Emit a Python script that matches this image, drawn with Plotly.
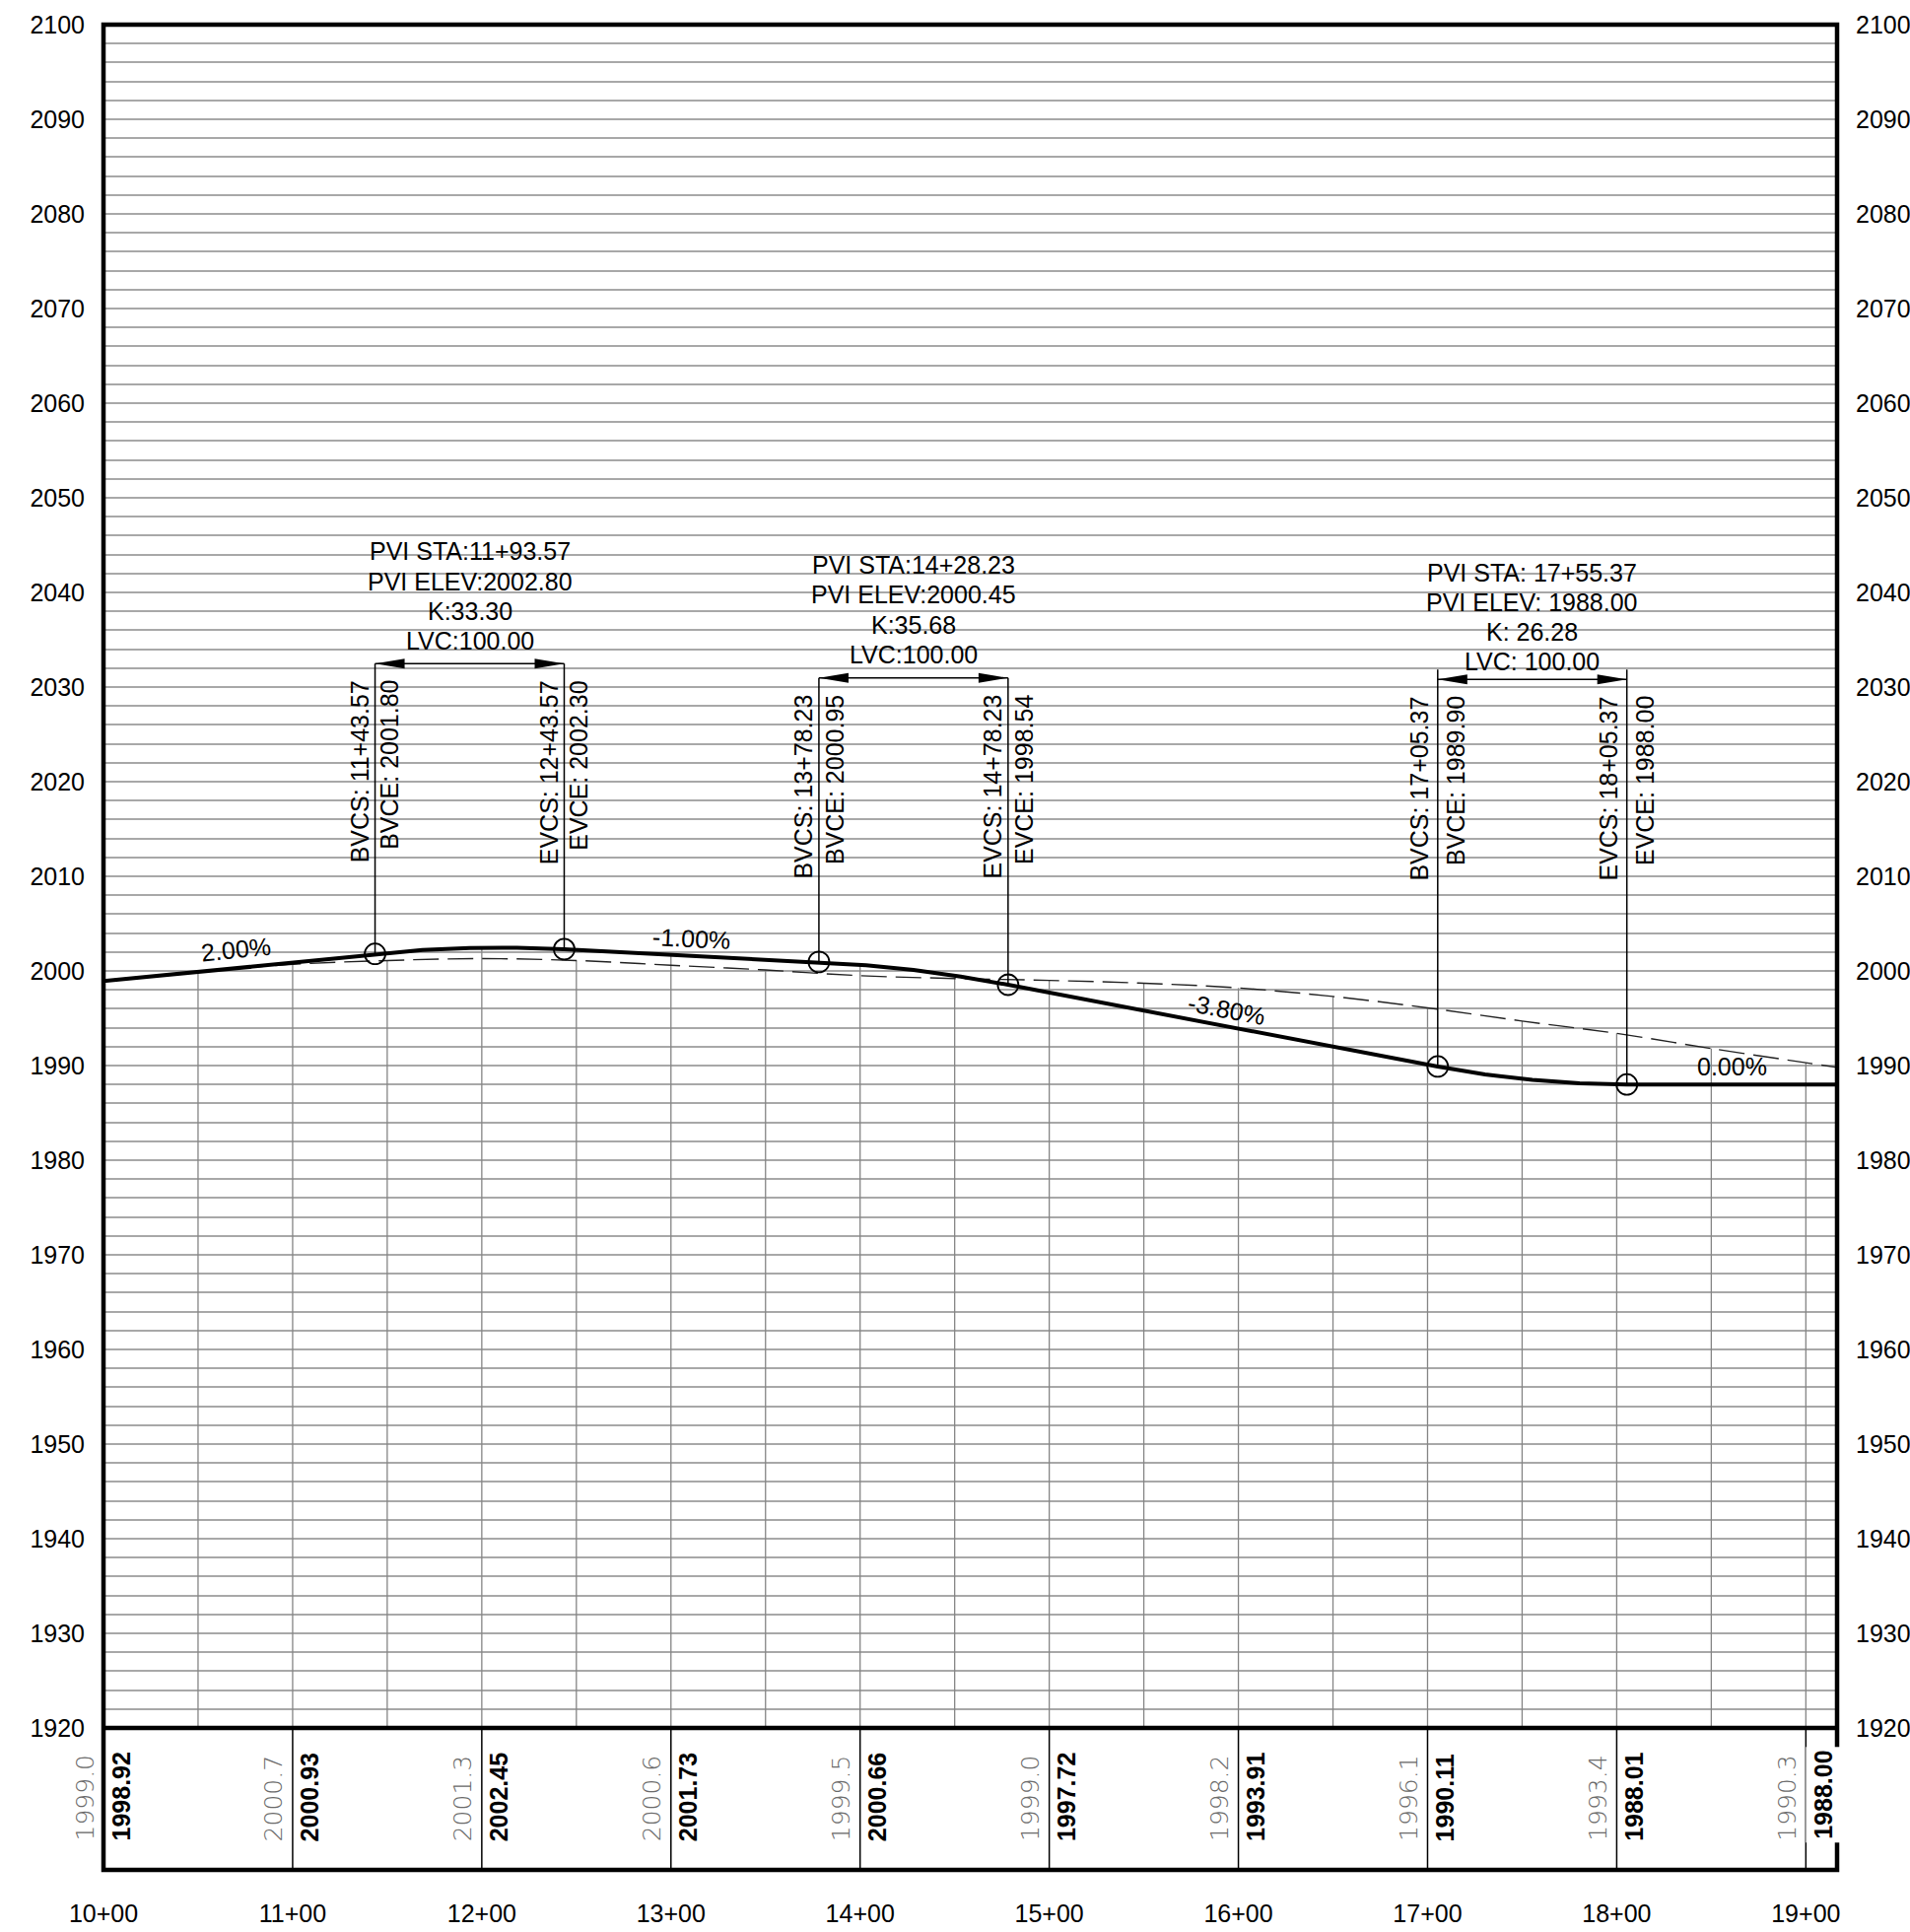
import math
import plotly.graph_objects as go

# ------------------------------------------------------------------ data
station_ticks = [1000, 1100, 1200, 1300, 1400, 1500, 1600, 1700, 1800, 1900]
station_labels = ["10+00", "11+00", "12+00", "13+00", "14+00",
                  "15+00", "16+00", "17+00", "18+00", "19+00"]
design_band = [1998.92, 2000.93, 2002.45, 2001.73, 2000.66,
               1997.72, 1993.91, 1990.11, 1988.01, 1988.00]
ground_band = [1999.0, 2000.7, 2001.3, 2000.6, 1999.5,
               1999.0, 1998.2, 1996.1, 1993.4, 1990.3]

ground_sta = [1000, 1050, 1100, 1150, 1200, 1250, 1300, 1350, 1400, 1450,
              1500, 1550, 1600, 1650, 1700, 1750, 1800, 1850, 1900, 1916.5]
ground_elev = [1999.0, 1999.9, 2000.7, 2001.1, 2001.3, 2001.1, 2000.6, 2000.1, 1999.5, 1999.2,
               1999.0, 1998.7, 1998.2, 1997.3, 1996.1, 1994.7, 1993.4, 1991.8, 1990.3, 1989.8]

design_sta = [1000, 1100, 1143.57, 1168.57, 1193.57, 1218.57, 1243.57, 1300,
              1378.23, 1403.23, 1428.23, 1453.23, 1478.23, 1500, 1600, 1700,
              1705.37, 1730.37, 1755.37, 1780.37, 1805.37, 1900, 1916.5]
design_elev = [1998.92, 2000.93, 2001.80, 2002.21, 2002.43, 2002.46, 2002.30, 2001.73,
               2000.95, 2000.61, 2000.10, 1999.41, 1998.54, 1997.72, 1993.91, 1990.11,
               1989.90, 1989.07, 1988.48, 1988.12, 1988.00, 1988.00, 1988.00]

pvi_sta = [1193.57, 1428.23, 1755.37]
pvi_sta_text = ["11+93.57", "14+28.23", "17+55.37"]
pvi_elev_text = ["2002.80", "2000.45", "1988.00"]
pvi_k_text = ["33.30", "35.68", "26.28"]
pvi_lvc_text = ["100.00", "100.00", "100.00"]
bvc_sta = [1143.57, 1378.23, 1705.37]
bvc_elev = [2001.80, 2000.95, 1989.90]
evc_sta = [1243.57, 1478.23, 1805.37]
evc_elev = [2002.30, 1998.54, 1988.00]

grade_labels = ["2.00%", "-1.00%", "-3.80%", "0.00%"]
grade_values = [2.00, -1.00, -3.80, 0.00]

elev_ticks = list(range(1920, 2101, 10))

# ------------------------------------------------------------------ layout constants
X_MIN, X_MAX = 1000, 1916.5
Y_BAND, Y_GRID, Y_MAX = 1905, 1920, 2100
W, H = 1938, 1960
M_L, M_R, M_T, M_B = 105, 74, 25, 63
PX_X = (W - M_L - M_R) / (X_MAX - X_MIN)
PX_Y = (H - M_T - M_B) / (Y_MAX - Y_BAND)

label_sep = ["", "", " "]
label_first = [2044.34, 2042.89, 2042.11]
label_step_px = 30.2
dim_elev = [2032.47, 2030.97, 2030.80]
dim_ext_px = [0, 0, 10]
side_off = [(-16, 15), (-15.5, 15.5), (-19, 19)]
grade_pos = [(1070.3, 2002.29), (1311.0, 2003.39), (1593.7, 1995.94), (1860.8, 1989.93)]
band_text_elev = 1908.13

FONT = "Liberation Sans, Arial, sans-serif"
GRID = "#a8a8a8"
FS = 25

def fmt_sta(s):
    return f"{int(s // 100)}+{s % 100:05.2f}"

fig = go.Figure()

# vertical grid lines (50 ft) from 1920 up to the profile
vx, vy = [], []
for s, g in zip(ground_sta[1:-1], ground_elev[1:-1]):
    top = g
    if s in station_ticks:
        top = max(g, design_band[station_ticks.index(s)])
    vx += [s, s, None]
    vy += [Y_GRID, top, None]
fig.add_trace(go.Scatter(x=vx, y=vy, mode="lines", line=dict(color="#858585", width=1.3),
                         hoverinfo="skip", showlegend=False))

# band separators
bx, by = [], []
for s in station_ticks[1:]:
    bx += [s, s, None]
    by += [Y_BAND, Y_GRID, None]
fig.add_trace(go.Scatter(x=bx, y=by, mode="lines", line=dict(color="black", width=1.5),
                         hoverinfo="skip", showlegend=False))

# existing ground
fig.add_trace(go.Scatter(x=ground_sta, y=ground_elev, mode="lines", line_shape="spline",
                         line=dict(color="#222222", width=1.4, dash="26px,9px"),
                         hoverinfo="skip", showlegend=False))
# design profile
fig.add_trace(go.Scatter(x=design_sta, y=design_elev, mode="lines",
                         line=dict(color="black", width=4),
                         hoverinfo="skip", showlegend=False))

# dimension lines
dx, dy = [], []
shapes = []
ann = []
L_ARW = 30 / PX_X
H_ARW = 5 / PX_Y
for i in range(3):
    top = dim_elev[i] + dim_ext_px[i] / PX_Y
    dx += [bvc_sta[i], bvc_sta[i], None, evc_sta[i], evc_sta[i], None,
           bvc_sta[i], evc_sta[i], None]
    dy += [top, bvc_elev[i], None, top, evc_elev[i], None,
           dim_elev[i], dim_elev[i], None]
    y = dim_elev[i]
    for tip, d in ((bvc_sta[i], 1), (evc_sta[i], -1)):
        shapes.append(dict(type="path", xref="x", yref="y",
                           path=f"M {tip},{y} L {tip + d * L_ARW},{y + H_ARW} L {tip + d * L_ARW},{y - H_ARW} Z",
                           fillcolor="black", line=dict(width=0)))
    sep = label_sep[i]
    lines = [f"PVI STA:{sep}{pvi_sta_text[i]}", f"PVI ELEV:{sep}{pvi_elev_text[i]}",
             f"K:{sep}{pvi_k_text[i]}", f"LVC:{sep}{pvi_lvc_text[i]}"]
    for j, t in enumerate(lines):
        ann.append(dict(x=pvi_sta[i], y=label_first[i], xref="x", yref="y", text=t,
                        showarrow=False, xanchor="center", yanchor="middle",
                        yshift=-label_step_px * j, font=dict(family=FONT, size=FS, color="black")))
    for s, e, a, b in ((bvc_sta[i], bvc_elev[i], "BVCS", "BVCE"),
                       (evc_sta[i], evc_elev[i], "EVCS", "EVCE")):
        ann.append(dict(x=s, y=dim_elev[i], xref="x", yref="y", text=f"{a}: {fmt_sta(s)}",
                        showarrow=False, textangle=-90, xanchor="center", yanchor="top",
                        xshift=side_off[i][0], yshift=-15,
                        font=dict(family=FONT, size=FS, color="black")))
        ann.append(dict(x=s, y=dim_elev[i], xref="x", yref="y", text=f"{b}: {e:.2f}",
                        showarrow=False, textangle=-90, xanchor="center", yanchor="top",
                        xshift=side_off[i][1], yshift=-15,
                        font=dict(family=FONT, size=FS, color="black")))

fig.add_trace(go.Scatter(x=dx, y=dy, mode="lines", line=dict(color="black", width=1.5),
                         hoverinfo="skip", showlegend=False))
fig.add_trace(go.Scatter(x=bvc_sta + evc_sta, y=bvc_elev + evc_elev, mode="markers",
                         marker=dict(symbol="circle-open", size=21, color="black",
                                     line=dict(width=1.8, color="black")),
                         hoverinfo="skip", showlegend=False))

# grade labels
for t, g, (gx, gy) in zip(grade_labels, grade_values, grade_pos):
    ang = math.degrees(math.atan(g / 100 * PX_Y / PX_X))
    ann.append(dict(x=gx, y=gy, xref="x", yref="y", text=t, showarrow=False,
                    textangle=-ang, xanchor="center", yanchor="middle",
                    font=dict(family=FONT, size=FS, color="black")))

# band labels
for k, (s, d, g) in enumerate(zip(station_ticks, design_band, ground_band)):
    last = k == len(station_ticks) - 1
    ann.append(dict(x=s, y=band_text_elev, xref="x", yref="y", text=f"{d:.2f}",
                    showarrow=False, textangle=-90, xanchor="center", yanchor="bottom",
                    xshift=17.5, yshift=-3,
                    font=dict(family=FONT, size=25, color="black", weight="bold"),
                    bgcolor="white" if last else None, borderpad=3 if last else 1))
    ann.append(dict(x=s, y=band_text_elev, xref="x", yref="y", text=f"{g:.1f}",
                    showarrow=False, textangle=-90, xanchor="center", yanchor="bottom",
                    xshift=-19, yshift=-3,
                    font=dict(family="DejaVu Sans", size=25, color="#6a6a6a", weight=200)))

# right axis helper
fig.add_trace(go.Scatter(x=[X_MIN], y=[Y_MAX], yaxis="y2", mode="markers",
                         marker=dict(opacity=0), hoverinfo="skip", showlegend=False))

# frame
shapes.append(dict(type="rect", xref="paper", yref="paper", x0=0, x1=1, y0=0, y1=1,
                   line=dict(color="black", width=4.5), layer="above"))
shapes.append(dict(type="line", xref="paper", yref="y", x0=0, x1=1, y0=Y_GRID, y1=Y_GRID,
                   line=dict(color="black", width=4.5), layer="above"))

grid_vals = list(range(Y_GRID, Y_MAX + 1, 2))
fig.update_layout(
    width=W, height=H, margin=dict(l=M_L, r=M_R, t=M_T, b=M_B, pad=0, autoexpand=False),
    plot_bgcolor="white", paper_bgcolor="white", showlegend=False,
    shapes=shapes, annotations=ann,
    xaxis=dict(range=[X_MIN, X_MAX], tickvals=station_ticks, ticktext=station_labels,
               showgrid=False, zeroline=False, showline=False, ticks="", automargin=False,
               ticklabelstandoff=27, tickfont=dict(family=FONT, size=FS, color="black")),
    yaxis=dict(range=[Y_BAND, Y_MAX], tickvals=grid_vals,
               ticktext=[str(v) if v in elev_ticks else "" for v in grid_vals],
               showgrid=True, gridcolor=GRID, gridwidth=1.6, zeroline=False, automargin=False,
               showline=False, ticks="", ticklabelstandoff=18,
               tickfont=dict(family=FONT, size=FS, color="black")),
    yaxis2=dict(range=[Y_BAND, Y_MAX], overlaying="y", side="right", tickvals=elev_ticks,
                ticktext=[str(v) for v in elev_ticks], showgrid=False, zeroline=False,
                showline=False, ticks="", ticklabelstandoff=18, automargin=False,
                tickfont=dict(family=FONT, size=FS, color="black")),
)

fig.write_html("out.html", config={"displayModeBar": False},
               post_script="document.body.style.margin='0';document.body.style.overflow='hidden';")
